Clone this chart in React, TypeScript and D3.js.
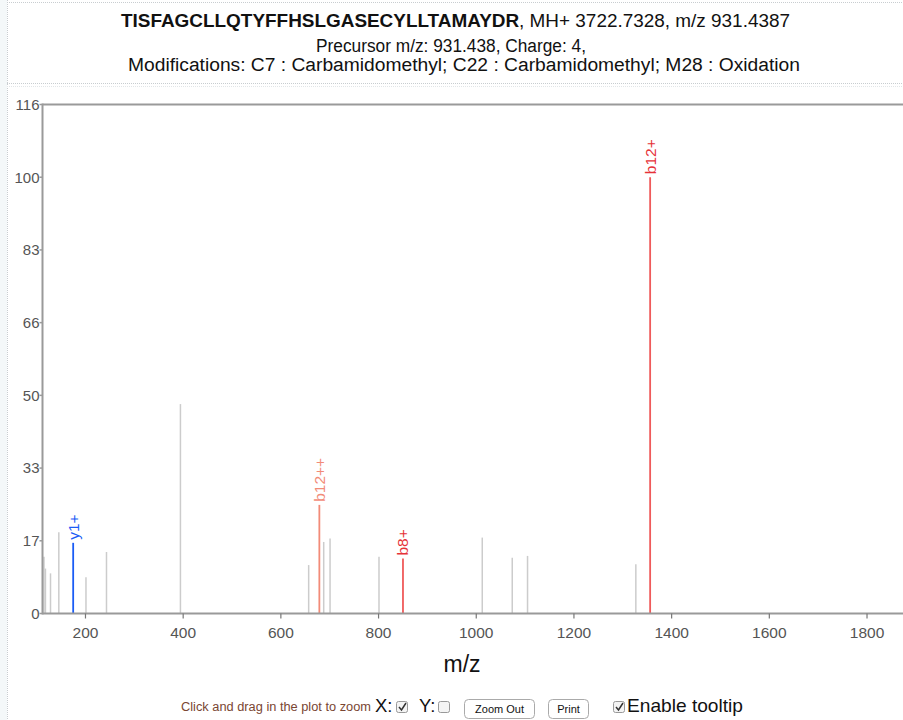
import React from "react";
import * as d3 from "d3";

const peakMz = [115, 118, 128.4, 145.4, 174.8, 201, 243, 394.4, 656.9, 678.8, 687.7, 700.7, 800.9, 850, 1012.3, 1073.7, 1105, 1326.7, 1356];
const peakIntensity = [13.0, 10.3, 9.2, 18.6, 16.2, 8.3, 14.1, 48.0, 11.1, 24.9, 16.4, 17.2, 13.0, 12.6, 17.4, 12.8, 13.2, 11.3, 100];
const peakLabel = ["", "", "", "", "y1+", "", "", "", "", "b12++", "", "", "", "b8+", "", "", "", "", "b12+"];
const peakKind = ["o", "o", "o", "o", "y", "o", "o", "o", "o", "b2", "o", "o", "o", "b", "o", "o", "o", "o", "b"];

const xTicks = [200, 400, 600, 800, 1000, 1200, 1400, 1600, 1800];
const yTickValues = [0, 16.667, 33.333, 50, 66.667, 83.333, 100, 116.667];
const yTickLabels = ["0", "17", "33", "50", "66", "83", "100", "116"];

const lineColor: Record<string, string> = { o: "#cccccc", y: "#1a5cf5", b: "#ef5a5a", b2: "#f28b78" };
const textColor: Record<string, string> = { o: "#cccccc", y: "#1a5cf5", b: "#e63238", b2: "#f28b78" };

const FONT = "'Liberation Sans', Arial, Helvetica, sans-serif";

export default function App() {
  const W = 903, H = 720;
  const left = 42.5, top = 104.5, bottom = 613.5, right = 910;
  const x = d3.scaleLinear().domain([112, 1888]).range([left, right]);
  const y = d3.scaleLinear().domain([0, 116.667]).range([bottom, top]);

  return (
    <svg width={W} height={H} style={{ position: "absolute", left: 0, top: 0, background: "#fff" }} fontFamily={FONT}>
      <rect x={0} y={0} width={7} height={H} fill="#f4f8f9" />
      <line x1={7.5} y1={0} x2={7.5} y2={H} stroke="#c8cdd0" strokeDasharray="1,1" />
      <line x1={7} y1={2.5} x2={W} y2={2.5} stroke="#c8cdd0" strokeDasharray="1,1" />
      <line x1={7} y1={83.5} x2={W} y2={83.5} stroke="#c8cdd0" strokeDasharray="1,1" />
      <line x1={7} y1={86.5} x2={W} y2={86.5} stroke="#e2e6e8" strokeDasharray="1,1" />

      <text x={455.5} y={27} textAnchor="middle" fontSize={18} fill="#111" textLength={669} lengthAdjust="spacingAndGlyphs">
        <tspan fontWeight="bold">TISFAGCLLQTYFFHSLGASECYLLTAMAYDR</tspan>
        <tspan>, MH+ 3722.7328, m/z 931.4387</tspan>
      </text>
      <text x={451} y={52} textAnchor="middle" fontSize={18} fill="#111" textLength={270} lengthAdjust="spacingAndGlyphs">Precursor m/z: 931.438, Charge: 4,</text>
      <text x={464} y={71} textAnchor="middle" fontSize={18} fill="#111" textLength={672} lengthAdjust="spacingAndGlyphs">Modifications: C7 : Carbamidomethyl; C22 : Carbamidomethyl; M28 : Oxidation</text>

      {/* peaks */}
      {peakMz.map((m, i) => (
        <line key={"p" + i} x1={x(m)} x2={x(m)} y1={y(0)} y2={y(peakIntensity[i])}
          stroke={lineColor[peakKind[i]]} strokeWidth={peakKind[i] === "o" ? 1.5 : 1.8} />
      ))}
      {peakMz.map((m, i) => peakLabel[i] ? (
        <text key={"l" + i} transform={`translate(${x(m) + 5.5},${y(peakIntensity[i]) - 3}) rotate(-90)`}
          fontSize={15.5} fill={textColor[peakKind[i]]}>{peakLabel[i]}</text>
      ) : null)}

      {/* axes frame */}
      <line x1={left} x2={W} y1={top} y2={top} stroke="#9a9a9a" strokeWidth={2} />
      <line x1={left} x2={left} y1={top - 1} y2={bottom + 1} stroke="#9a9a9a" strokeWidth={2} />
      <line x1={left} x2={W} y1={bottom} y2={bottom} stroke="#9a9a9a" strokeWidth={2} />

      {yTickValues.map((v, i) => (
        <g key={"yt" + i}>
          <line x1={left - 3} x2={left} y1={y(v)} y2={y(v)} stroke="#9a9a9a" strokeWidth={1.5} />
          <text x={left - 3} y={y(v)} dy="0.36em" textAnchor="end" fontSize={15} fill="#555">{yTickLabels[i]}</text>
        </g>
      ))}
      {xTicks.map((v, i) => (
        <g key={"xt" + i}>
          <line x1={x(v)} x2={x(v)} y1={bottom} y2={bottom + 5} stroke="#777" strokeWidth={1.2} />
          <text x={x(v)} y={bottom + 24} textAnchor="middle" fontSize={15.5} fill="#555">{v}</text>
        </g>
      ))}

      <text x={462} y={672} textAnchor="middle" fontSize={23} fill="#111">m/z</text>

      {/* controls */}
      <text x={181} y={711} fontSize={12.5} fill="#7a4632" textLength={190} lengthAdjust="spacingAndGlyphs">Click and drag in the plot to zoom</text>
      <text x={375} y={712} fontSize={18.5} fill="#111">X:</text>
      <rect x={396.5} y={701.5} width={11} height={11} rx={2} fill="#f4f4f4" stroke="#999" />
      <path d="M399,707 L401.5,710 L406,703" fill="none" stroke="#333" strokeWidth={1.5} />
      <text x={419} y={712} fontSize={18.5} fill="#111">Y:</text>
      <rect x={438.5} y={701.5} width={11} height={11} rx={2} fill="#f4f4f4" stroke="#999" />
      <rect x={464.5} y={699.5} width={70} height={19} rx={4} fill="#fff" stroke="#aaa" />
      <text x={499.5} y={713} textAnchor="middle" fontSize={11} fill="#111">Zoom Out</text>
      <rect x={548.5} y={699.5} width={40} height={19} rx={4} fill="#fff" stroke="#aaa" />
      <text x={568.5} y={713} textAnchor="middle" fontSize={11} fill="#111">Print</text>
      <rect x={613.5} y={701.5} width={11} height={11} rx={2} fill="#f4f4f4" stroke="#999" />
      <path d="M616,707 L618.5,710 L623,703" fill="none" stroke="#333" strokeWidth={1.5} />
      <text x={627} y={712} fontSize={18.5} fill="#111" textLength={116} lengthAdjust="spacingAndGlyphs">Enable tooltip</text>
    </svg>
  );
}
